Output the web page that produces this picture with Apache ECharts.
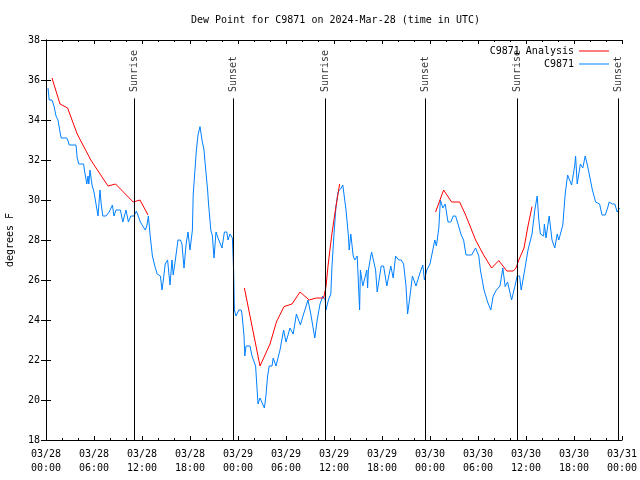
<!DOCTYPE html>
<html>
<head>
<meta charset="utf-8">
<script src="https://cdn.jsdelivr.net/npm/echarts@6/dist/echarts.min.js"></script>
<style>html,body{margin:0;padding:0;background:#fff}#c{width:640px;height:480px}</style>
</head>
<body>
<div id="c"></div>
<script>
// hours since 03/28 00:00 UTC
const obsTimes = [0.25,0.4,0.5,0.75,1.0,1.25,1.5,1.75,1.9,2.6,2.8,2.9,3.75,3.9,4.1,4.7,4.8,5.1,5.25,5.35,5.5,5.75,6.0,6.25,6.5,6.75,6.9,7.1,7.5,7.9,8.3,8.5,8.75,9.3,9.6,10.0,10.3,10.6,11.0,11.3,11.8,12.0,12.4,12.6,12.8,13.0,13.3,13.6,13.9,14.3,14.5,14.7,14.9,15.2,15.3,15.5,15.75,15.9,16.1,16.25,16.5,16.8,17.0,17.1,17.25,17.5,17.75,18.0,18.25,18.3,18.4,18.6,18.8,19.0,19.25,19.5,19.75,19.9,20.2,20.3,20.6,20.8,21.0,21.25,21.5,21.75,22.0,22.3,22.6,22.75,23.0,23.3,23.45,23.55,23.75,24.1,24.4,24.5,24.75,24.85,25.0,25.5,25.75,26.2,26.5,26.75,27.0,27.3,27.5,27.7,27.9,28.25,28.4,28.6,28.75,29.25,29.7,30.0,30.5,30.75,30.9,31.3,31.5,31.8,32.2,32.75,33.1,33.6,33.9,34.25,34.6,34.9,35.0,35.3,35.6,35.75,36.0,36.25,36.5,36.9,37.1,37.5,37.8,37.9,38.1,38.4,38.6,38.9,39.2,39.3,39.6,40.1,40.2,40.3,40.6,40.7,41.2,41.4,41.9,42.2,42.6,43.1,43.4,43.7,44.1,44.4,44.7,45.0,45.2,45.5,45.8,46.25,46.7,47.1,47.3,47.6,48.0,48.25,48.6,48.8,49.1,49.3,49.6,49.9,50.25,50.6,50.9,51.2,51.5,51.9,52.2,52.5,53.2,53.7,54.1,54.3,54.75,55.2,55.6,55.9,56.3,56.75,57.1,57.4,57.7,57.9,58.2,58.6,58.9,59.2,59.4,59.75,60.25,60.75,61.1,61.4,61.6,61.8,62.2,62.3,62.5,62.9,63.25,63.6,63.9,64.1,64.6,64.9,65.2,65.4,65.7,65.9,66.1,66.2,66.4,66.8,67.1,67.4,67.7,67.9,68.3,68.7,68.8,69.2,69.5,69.9,70.2,70.4,70.8,71.1,71.4,71.7];
const obsValues = [35.6,35.0,34.9,35.0,34.7,34.2,34.0,33.4,33.1,33.1,32.9,32.75,32.75,32.1,31.8,31.8,31.5,30.8,31.2,30.8,31.5,30.75,30.4,29.8,29.2,30.5,29.8,29.2,29.2,29.4,29.75,29.2,29.5,29.5,28.9,29.5,28.9,29.2,29.2,29.45,28.9,28.8,28.5,28.7,29.2,28.3,27.2,26.7,26.3,26.2,25.5,26.1,26.8,27.0,27.0,25.75,27.0,26.25,26.8,27.25,28.0,28.0,27.8,27.3,26.6,27.75,28.4,27.5,27.5,28.5,30.25,31.4,32.5,33.25,33.67,33.0,32.5,31.8,30.5,29.9,28.5,28.2,27.1,28.4,28.1,28.1,27.6,28.4,28.4,28.0,28.3,28.1,26.5,24.5,24.2,24.5,24.5,24.3,23.2,22.2,22.7,22.7,22.2,21.7,19.8,20.1,20.1,19.6,20.25,21.2,21.7,21.7,22.1,22.2,21.7,22.5,23.5,22.9,23.6,23.6,23.3,24.3,24.3,23.75,24.3,25.0,24.3,23.1,24.0,24.8,25.2,25.0,24.5,25.0,25.3,26.7,28.3,29.7,30.4,30.6,30.75,29.5,28.2,27.5,28.3,27.2,27.0,27.2,24.5,26.5,25.7,26.5,25.6,26.5,27.2,27.4,26.5,25.4,26.7,26.7,25.7,26.7,26.1,27.2,27.0,27.0,26.8,25.7,24.3,25.2,26.2,25.7,26.3,26.75,26.0,26.5,26.8,27.3,28.0,27.7,28.6,30.0,29.6,29.8,28.9,28.9,29.2,29.2,28.8,28.25,28.0,27.25,27.25,27.6,27.2,26.5,25.5,24.9,24.5,25.2,25.5,25.7,26.6,25.67,25.9,25.9,25.0,25.67,26.2,26.2,25.5,26.3,27.5,28.3,29.5,30.2,29.0,28.3,28.2,28.8,28.1,29.2,28.0,27.6,28.3,28.0,28.75,30.3,31.25,31.25,30.75,30.75,31.75,32.2,30.8,31.8,31.6,32.2,31.7,31.3,30.5,29.9,29.8,29.8,29.25,29.25,29.6,29.9,29.8,29.8,29.4,29.6];

const anaTimes1 = [0.75,1.75,2.7,3.9,5.6,7.75,8.7,10.9,11.75,12.75];
const anaValues1 = [36.1,34.8,34.6,33.3,32.0,30.7,30.8,29.9,30.0,29.25];
const anaTimes2 = [24.8,26.75,28.0,28.8,29.75,30.75,31.75,32.9,33.8,34.7,35.0,35.25,35.7,36.1,36.7];
const anaValues2 = [25.6,21.7,22.8,23.9,24.67,24.8,25.4,25.0,25.1,25.1,25.67,26.7,28.2,29.3,30.8];
const anaTimes3 = [48.7,49.7,50.7,51.7,52.4,53.7,54.7,55.7,56.6,57.6,58.4,58.75,59.1,59.75,60.25,60.75];
const anaValues3 = [29.4,30.5,29.9,29.9,29.3,28.0,27.25,26.6,26.97,26.45,26.45,26.6,27.0,27.6,28.7,29.67];

const eventTimes = [11.04,23.4,34.96,47.4,58.9,71.5];
const eventNames = ['Sunrise','Sunset','Sunrise','Sunset','Sunrise','Sunset'];

const xTicks = ['03/28\n00:00','03/28\n06:00','03/28\n12:00','03/28\n18:00','03/29\n00:00','03/29\n06:00','03/29\n12:00','03/29\n18:00','03/30\n00:00','03/30\n06:00','03/30\n12:00','03/30\n18:00','03/31\n00:00'];

const FONT = 'DejaVu Sans Mono';
const LINE_TOP = 35.08;
const LABEL_BASE = 35.4;

const obsData = obsTimes.map((t,i)=>[t, obsValues[i]]);
const anaData = [];
[[anaTimes1,anaValues1],[anaTimes2,anaValues2],[anaTimes3,anaValues3]].forEach((seg,k)=>{
  if (k>0) anaData.push([seg[0][0]-0.01,'-']);
  seg[0].forEach((t,i)=>anaData.push([t, seg[1][i]]));
});

const chart = echarts.init(document.getElementById('c'), null, {renderer:'canvas'});
const axisCommon = {
  axisLine:{show:true, lineStyle:{color:'#000', width:1}},
  splitLine:{show:false}
};
chart.setOption({
  animation:false,
  backgroundColor:'#fff',
  title:{text:'Dew Point for C9871 on 2024-Mar-28 (time in UTC)', left:186, top:10,
    textStyle:{fontFamily:FONT, fontSize:10, fontWeight:'normal', color:'#000'}},
  grid:{left:46, right:18, top:40, bottom:40, containLabel:false, outerBoundsMode:'none'},
  legend:{data:['C9871 Analysis','C9871'], orient:'vertical', right:26, top:41, align:'right',
    icon:'rect', itemWidth:30, itemHeight:1, itemGap:3,
    textStyle:{fontFamily:FONT, fontSize:10, color:'#000', lineHeight:10}},
  xAxis:[
    Object.assign({type:'value', min:0, max:72, interval:6, position:'bottom',
      axisTick:{inside:true, length:4, lineStyle:{color:'#000'}},
      minorTick:{show:true, splitNumber:3, length:2, lineStyle:{color:'#000'}},
      axisLabel:{fontFamily:FONT, fontSize:10, color:'#000', lineHeight:14, margin:7,
        formatter:(v)=>xTicks[Math.round(v/6)]}}, axisCommon),
    Object.assign({type:'value', min:0, max:72, interval:6, position:'top',
      axisTick:{inside:true, length:4, lineStyle:{color:'#000'}},
      minorTick:{show:true, splitNumber:3, length:2, lineStyle:{color:'#000'}},
      axisLabel:{show:false}}, axisCommon)
  ],
  yAxis:[
    Object.assign({type:'value', min:18, max:38, interval:2, position:'left',
      name:'degrees F', nameLocation:'middle', nameGap:31, nameRotate:90,
      nameTextStyle:{fontFamily:FONT, fontSize:10, color:'#000'},
      axisTick:{inside:true, length:5, lineStyle:{color:'#000'}},
      axisLabel:{fontFamily:FONT, fontSize:10, color:'#000', margin:6}}, axisCommon),
    Object.assign({type:'value', min:18, max:38, interval:2, position:'right',
      axisTick:{inside:true, length:5, lineStyle:{color:'#000'}},
      axisLabel:{show:false}}, axisCommon)
  ],
  series:[
    {name:'C9871 Analysis', type:'line', data:anaData, symbol:'none', showSymbol:false,
      connectNulls:false, lineStyle:{color:'#ff0000', width:1}, itemStyle:{color:'#ff0000'}, z:3},
    {name:'C9871', type:'line', data:obsData, symbol:'none', showSymbol:false,
      lineStyle:{color:'#0080ff', width:1}, itemStyle:{color:'#0080ff'}, z:2},
    {name:'events', type:'scatter', symbolSize:0, silent:true, z:4,
      data:eventTimes.map((t,i)=>({value:[t, LABEL_BASE], name:eventNames[i]})),
      label:{show:true, position:'inside', rotate:90, align:'left', verticalAlign:'middle',
        formatter:(p)=>p.name, fontFamily:FONT, fontSize:10, color:'#000'},
      markLine:{silent:true, symbol:['none','none'], label:{show:false},
        lineStyle:{color:'#000', width:1, type:'solid'},
        data:eventTimes.map(t=>[{coord:[t, LINE_TOP]},{coord:[t, 18]}])}
    }
  ]
});
</script>
</body>
</html>
